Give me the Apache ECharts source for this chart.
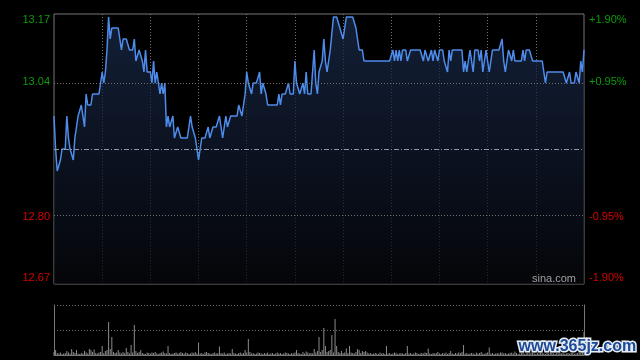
<!DOCTYPE html>
<html><head><meta charset="utf-8">
<script src="https://cdn.jsdelivr.net/npm/echarts@6/dist/echarts.min.js"></script>
<style>html,body{margin:0;padding:0;background:#000}#c{width:640px;height:360px}</style>
</head><body><div id="c"></div>
<script>
const basePrice = 12.92;
const pctStep = 0.0095;
const leftTickLabels = ['12.67', '12.80', '', '13.04', '13.17'];
const rightTickLabels = ['-1.90%', '-0.95%', '', '+0.95%', '+1.90%'];

const prices = [
12.98,12.92,12.88,12.88,12.90,12.92,12.92,12.92,12.98,12.94,
12.92,12.92,12.90,12.94,12.96,12.98,12.98,13.00,12.98,12.96,
13.02,13.00,13.00,13.00,13.02,13.02,13.02,13.02,13.02,13.02,
13.06,13.04,13.06,13.10,13.16,13.12,13.14,13.14,13.14,13.14,
13.14,13.14,13.10,13.12,13.12,13.12,13.12,13.10,13.10,13.10,
13.12,13.08,13.08,13.10,13.10,13.08,13.06,13.10,13.06,13.06,
13.06,13.04,13.08,13.04,13.06,13.06,13.02,13.04,13.02,13.04,
12.96,12.98,12.96,12.96,12.98,12.94,12.94,12.96,12.96,12.94,
12.94,12.94,12.94,12.94,12.94,12.98,12.96,12.96,12.94,12.94,
12.90,12.92,12.94,12.94,12.94,12.94,12.96,12.94,12.94,12.96,
12.96,12.96,12.96,12.98,12.96,12.94,12.94,12.98,12.96,12.96,
12.98,12.98,12.98,12.98,12.98,13.00,13.00,12.98,13.00,13.02,
13.06,13.04,13.04,13.02,13.04,13.04,13.04,13.04,13.06,13.02,
13.04,13.04,13.02,13.00,13.00,13.00,13.00,13.00,13.00,13.00,
13.02,13.00,13.02,13.02,13.02,13.02,13.04,13.02,13.02,13.02,
13.08,13.04,13.04,13.02,13.02,13.04,13.02,13.06,13.02,13.02,
13.02,13.02,13.10,13.04,13.02,13.06,13.06,13.08,13.12,13.08,
13.06,13.08,13.10,13.10,13.16,13.16,13.16,13.16,13.14,13.14,
13.12,13.14,13.16,13.16,13.16,13.16,13.16,13.16,13.14,13.12,
13.10,13.10,13.10,13.08,13.08,13.08,13.08,13.08,13.08,13.08,
13.08,13.08,13.08,13.08,13.08,13.08,13.08,13.08,13.08,13.08,
13.08,13.10,13.08,13.10,13.08,13.10,13.08,13.10,13.10,13.10,
13.08,13.08,13.10,13.10,13.10,13.10,13.10,13.10,13.10,13.10,
13.08,13.10,13.10,13.08,13.08,13.10,13.08,13.10,13.10,13.08,
13.10,13.10,13.10,13.08,13.08,13.06,13.10,13.08,13.10,13.10,
13.10,13.10,13.10,13.10,13.10,13.06,13.08,13.06,13.06,13.10,
13.10,13.06,13.10,13.10,13.10,13.08,13.10,13.06,13.06,13.10,
13.10,13.06,13.06,13.10,13.10,13.10,13.10,13.10,13.10,13.12,
13.08,13.06,13.06,13.10,13.10,13.08,13.10,13.08,13.08,13.08,
13.08,13.08,13.10,13.08,13.10,13.10,13.10,13.10,13.08,13.08,
13.08,13.08,13.08,13.08,13.08,13.08,13.04,13.06,13.06,13.06,
13.06,13.06,13.06,13.06,13.06,13.06,13.06,13.06,13.06,13.04,
13.04,13.06,13.04,13.04,13.04,13.06,13.06,13.04,13.08,13.06,
13.10
];

// volume, as a fraction of the volume panel's full height
const volumes = [
.06,.10,.04,.03,.05,.02,.03,.04,.08,.05,
.03,.12,.06,.04,.10,.03,.02,.04,.03,.08,
.05,.03,.12,.10,.06,.11,.04,.03,.05,.06,
.18,.04,.08,.10,.66,.12,.36,.06,.04,.05,
.10,.05,.03,.06,.04,.14,.06,.03,.20,.05,
.60,.08,.04,.06,.10,.04,.03,.02,.05,.04,
.03,.05,.04,.06,.03,.02,.04,.05,.07,.04,
.03,.18,.04,.02,.03,.04,.05,.03,.04,.06,
.04,.03,.05,.04,.02,.03,.05,.04,.06,.03,
.25,.03,.04,.02,.05,.06,.04,.03,.02,.04,
.05,.03,.04,.17,.04,.03,.05,.02,.03,.04,
.03,.12,.04,.03,.02,.04,.05,.03,.04,.10,
.05,.32,.06,.03,.04,.02,.03,.05,.04,.03,
.02,.04,.03,.05,.02,.03,.04,.02,.03,.05,
.03,.04,.02,.03,.05,.04,.03,.02,.04,.03,
.05,.10,.04,.03,.02,.06,.03,.07,.05,.03,
.04,.03,.12,.05,.08,.36,.06,.10,.54,.18,
.06,.08,.10,.40,.05,.72,.18,.06,.04,.08,
.04,.05,.13,.04,.18,.05,.04,.03,.06,.12,
.10,.04,.08,.06,.08,.05,.03,.04,.02,.03,
.04,.03,.02,.05,.03,.04,.02,.18,.03,.04,
.02,.03,.05,.04,.02,.03,.04,.03,.02,.04,
.18,.03,.04,.02,.03,.05,.04,.02,.03,.04,
.03,.05,.04,.13,.03,.02,.04,.03,.04,.06,
.03,.02,.04,.03,.05,.02,.04,.08,.03,.02,
.04,.03,.05,.04,.06,.20,.03,.04,.02,.03,
.04,.03,.02,.05,.03,.04,.06,.03,.02,.04,
.05,.15,.03,.04,.02,.03,.04,.03,.05,.05,
.03,.04,.02,.03,.04,.05,.03,.07,.04,.02,
.03,.04,.05,.02,.03,.04,.03,.05,.04,.03,
.02,.04,.03,.05,.04,.03,.02,.04,.03,.05,
.04,.03,.02,.04,.03,.05,.03,.04,.02,.03,
.04,.03,.05,.04,.02,.03,.04,.06,.05,.08,
.46
];

// HK session minutes: 09:30-12:00, 13:00-16:00
const times = [];
(function(){
  function fmt(m){const h=Math.floor(m/60),mm=m%60;return (h<10?'0':'')+h+':'+(mm<10?'0':'')+mm;}
  for(let m=570;m<=720;m++) times.push(fmt(m));
  for(let m=781;m<=960;m++) times.push(fmt(m));
})();

const GREEN = '#0b9b0b', RED = '#d60000';
const FONT = '"Liberation Sans", Arial, sans-serif';
const pMin = basePrice * (1 - 2 * pctStep);
const pMax = basePrice * (1 + 2 * pctStep);

function tickRich(idx, text){
  if (text === '') return '';
  if (idx === 4) return '{tg|' + text + '}';
  if (idx === 3) return '{g|' + text + '}';
  if (idx === 1) return '{r|' + text + '}';
  return '{br|' + text + '}';
}
const rich = {
  tg: {color: GREEN, fontSize: 11, fontFamily: FONT, padding: [12,0,0,0]},
  g: {color: GREEN, fontSize: 11, fontFamily: FONT},
  r: {color: RED, fontSize: 11, fontFamily: FONT},
  br: {color: RED, fontSize: 11, fontFamily: FONT, padding: [0,0,12,0]}
};

const chart = echarts.init(document.getElementById('c'), null, {renderer: 'canvas'});
chart.setOption({
  backgroundColor: '#000',
  animation: false,
  grid: [
    {left: 54, right: 56, top: 14, height: 270, show: true, borderColor: '#777', borderWidth: 1, backgroundColor: 'transparent'},
    {left: 54, right: 56, top: 305, height: 50, show: false}
  ],
  xAxis: [
    {type: 'category', gridIndex: 0, data: times, boundaryGap: false,
     axisLine: {show: false}, axisTick: {show: false}, axisLabel: {show: false},
     splitLine: {show: true, interval: function(i){ return i > 0 && i < 330 && i % 30 === 0; },
       lineStyle: {color: '#707070', type: [1, 2], width: 1}}},
    {type: 'category', gridIndex: 1, data: times, boundaryGap: false,
     axisLine: {show: true, lineStyle: {color: '#777'}}, axisTick: {show: false}, axisLabel: {show: false},
     splitLine: {show: false}}
  ],
  yAxis: [
    {type: 'value', gridIndex: 0, min: pMin, max: pMax, show: false},
    {type: 'value', gridIndex: 0, min: -2, max: 2, interval: 1, position: 'left',
     axisLine: {show: false}, axisTick: {show: false}, splitLine: {show: false},
     axisLabel: {margin: 4, rich: rich, formatter: function(v){ const i = Math.round(v) + 2; return tickRich(i, leftTickLabels[i]); }}},
    {type: 'value', gridIndex: 0, min: -2, max: 2, interval: 1, position: 'right',
     axisLine: {show: false}, axisTick: {show: false}, splitLine: {show: false},
     axisLabel: {margin: 5, rich: rich, formatter: function(v){ const i = Math.round(v) + 2; return tickRich(i, rightTickLabels[i]); }}},
    {type: 'value', gridIndex: 1, min: 0, max: 1, interval: 0.5, position: 'left',
     axisLine: {show: true, lineStyle: {color: '#777'}}, axisTick: {show: false}, axisLabel: {show: false},
     splitLine: {show: true, lineStyle: {color: '#707070', type: [1, 2]}}},
    {type: 'value', gridIndex: 1, min: 0, max: 1, interval: 0.5, position: 'right',
     axisLine: {show: true, lineStyle: {color: '#777'}}, axisTick: {show: false}, axisLabel: {show: false},
     splitLine: {show: false}}
  ],
  series: [
    {type: 'line', xAxisIndex: 0, yAxisIndex: 0, data: prices, showSymbol: false, symbol: 'none',
     lineStyle: {color: '#4d8ceb', width: 1.5},
     areaStyle: {origin: 'start', color: new echarts.graphic.LinearGradient(0, 0, 0, 1, [
       {offset: 0, color: '#1c2d4e'}, {offset: 0.6, color: '#0e1628'}, {offset: 1, color: '#06080c'}])},
     markLine: {silent: true, symbol: 'none', label: {show: false}, animation: false,
       data: [
         {yAxis: basePrice * (1 + pctStep), lineStyle: {color: '#707070', type: [1, 2], width: 1}},
         {yAxis: basePrice * (1 - pctStep), lineStyle: {color: '#707070', type: [1, 2], width: 1}},
         {yAxis: basePrice, lineStyle: {color: '#8d98a8', type: [5, 2, 1, 2], width: 1}}
       ]}
    },
    {type: 'bar', xAxisIndex: 1, yAxisIndex: 3, data: volumes, barWidth: 1,
     itemStyle: {color: '#8c8c8c'}}
  ],
  graphic: [
    {type: 'text', left: 532, top: 273, z: 10, silent: true,
     style: {text: 'sina.com', fill: '#a0a0a0', font: '11px ' + FONT}},
    {type: 'text', left: 517, top: 337, z: 20, silent: true,
     style: {text: 'www.365jz.com', fill: '#1d4a96', stroke: '#e6ecf6', lineWidth: 3, font: 'bold 16px ' + FONT}}
  ]
});
</script></body></html>
